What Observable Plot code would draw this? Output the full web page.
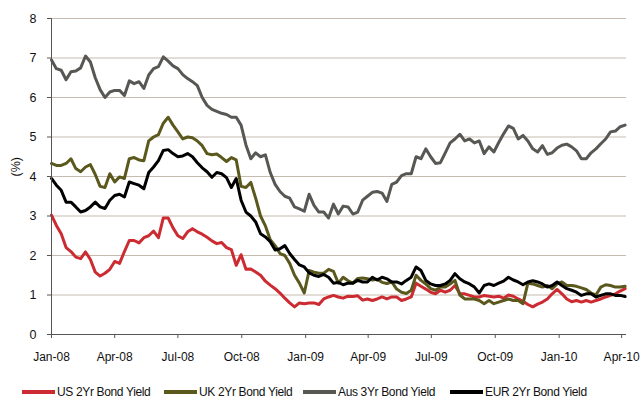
<!DOCTYPE html>
<html>
<head>
<meta charset="utf-8">
<script src="https://cdn.jsdelivr.net/npm/d3@7"></script>
<script src="https://cdn.jsdelivr.net/npm/@observablehq/plot@0.6"></script>
<style>
  body { margin: 0; background: #fff; font-family: "Liberation Sans", Arial, sans-serif; }
  #wrap { width: 642px; position: relative; }
  #legend { position: relative; height: 31px; width: 642px; }
  .item { position: absolute; top: 11px; display: flex; align-items: center; font-size: 12px; letter-spacing: -0.35px; color: #111; white-space: nowrap; }
  .sw { width: 33px; height: 4px; margin-right: 2px; }
</style>
</head>
<body>
<div id="wrap"></div>
<script>
// ---- Data (weekly observations starting 1 Jan 2008) ----
const seriesNames = ["US 2Yr Bond Yield", "UK 2Yr Bond Yield", "Aus 3Yr Bond Yield", "EUR 2Yr Bond Yield"];
const seriesColors = ["#cc2b31", "#5a581c", "#575853", "#000000"];
const firstWeek = "2008-01-01";

const us = [3.02,2.76,2.55,2.2,2.1,1.96,1.92,2.09,1.9,1.58,1.48,1.55,1.65,1.85,1.8,2.1,2.38,2.38,2.32,2.45,2.5,2.62,2.45,2.95,2.95,2.7,2.5,2.43,2.6,2.68,
2.6,2.54,2.46,2.37,2.3,2.33,2.2,2.15,1.75,2.02,1.65,1.66,1.58,1.5,1.35,1.25,1.16,1.05,0.92,0.8,0.7,0.8,0.78,0.8,0.8,0.76,0.9,0.95,0.99,0.95,
0.92,0.97,0.96,0.98,0.87,0.9,0.86,0.9,0.95,0.9,0.95,0.95,0.86,0.9,0.95,1.3,1.22,1.15,1.07,1.03,1.12,1.07,1.12,1.24,1.03,1.03,0.99,0.95,0.95,0.99,
0.97,0.95,0.97,0.92,1.0,0.97,0.9,0.84,0.76,0.7,0.77,0.82,0.9,1.03,1.14,1.03,0.9,0.83,0.86,0.82,0.86,0.82,0.86,0.9,0.95,0.99,1.03,1.1,1.16];

const uk = [4.33,4.28,4.28,4.33,4.45,4.2,4.12,4.24,4.3,4.05,3.75,3.72,4.07,3.86,3.99,3.95,4.45,4.48,4.42,4.4,4.9,5.0,5.06,5.35,5.5,5.3,5.13,4.95,5.0,4.98,
4.9,4.78,4.58,4.55,4.57,4.48,4.38,4.48,4.42,3.75,3.72,3.85,3.45,3.0,2.75,2.4,2.25,2.05,2.0,1.8,1.5,1.3,1.05,1.62,1.58,1.55,1.55,1.65,1.6,1.3,
1.45,1.36,1.3,1.42,1.43,1.41,1.38,1.4,1.32,1.29,1.33,1.15,1.07,1.04,1.12,1.5,1.37,1.28,1.16,1.12,1.2,1.2,1.28,1.37,1.0,0.9,0.9,0.9,0.86,0.78,
0.86,0.78,0.82,0.86,0.9,0.86,0.86,0.78,1.3,1.28,1.24,1.2,1.24,1.16,1.28,1.33,1.24,1.24,1.22,1.18,1.14,1.05,1.0,1.2,1.26,1.24,1.2,1.2,1.22];

const aus = [6.95,6.73,6.69,6.45,6.65,6.67,6.75,7.05,6.9,6.5,6.2,6.0,6.14,6.18,6.18,6.05,6.42,6.35,6.4,6.23,6.57,6.73,6.78,7.03,6.92,6.8,6.73,6.58,6.48,6.4,
6.3,6.0,5.8,5.7,5.65,5.6,5.57,5.5,5.5,5.3,4.8,4.45,4.6,4.5,4.55,4.1,3.8,3.62,3.5,3.45,3.23,3.18,3.12,3.55,3.27,3.1,3.1,2.95,3.3,3.05,
3.25,3.23,3.05,3.1,3.4,3.5,3.6,3.62,3.58,3.37,3.8,3.86,4.02,4.07,4.07,4.5,4.45,4.7,4.5,4.33,4.35,4.6,4.85,4.95,5.07,4.9,4.95,4.85,4.9,4.58,
4.75,4.62,4.86,5.08,5.28,5.22,4.95,5.04,4.9,4.7,4.62,4.78,4.56,4.6,4.72,4.79,4.82,4.75,4.65,4.45,4.45,4.6,4.7,4.83,4.95,5.13,5.15,5.26,5.3];

const eur = [3.95,3.78,3.65,3.35,3.35,3.23,3.1,3.14,3.23,3.35,3.23,3.19,3.4,3.52,3.55,3.48,3.86,3.82,3.78,3.69,4.1,4.24,4.4,4.66,4.68,4.58,4.5,4.52,4.58,4.5,
4.35,4.22,4.12,3.98,4.1,4.07,3.97,3.72,3.95,3.4,3.1,3.0,2.85,2.55,2.47,2.35,2.14,2.17,2.25,2.05,1.9,1.76,1.71,1.56,1.5,1.47,1.52,1.45,1.3,1.32,
1.26,1.3,1.3,1.37,1.33,1.33,1.45,1.38,1.45,1.41,1.33,1.33,1.28,1.37,1.45,1.71,1.62,1.37,1.28,1.24,1.24,1.28,1.37,1.54,1.41,1.33,1.28,1.2,1.05,1.24,
1.28,1.24,1.3,1.35,1.45,1.38,1.33,1.26,1.33,1.36,1.33,1.28,1.2,1.24,1.33,1.24,1.16,1.12,1.07,0.99,1.03,1.03,0.95,0.99,1.03,1.03,0.99,0.99,0.96];

const xTickDates = ["2008-01-01","2008-04-01","2008-07-01","2008-10-01","2009-01-01","2009-04-01","2009-07-01","2009-10-01","2010-01-01","2010-04-01"];
const yTicks = [0,1,2,3,4,5,6,7,8];
const xDomain = ["2008-01-01", "2010-04-08"];

// ---- Build table ----
const start = new Date(firstWeek + "T00:00:00Z");
const allValues = [us, uk, aus, eur];
const rows = [];
allValues.forEach((vals, s) => {
  vals.forEach((v, i) => rows.push({series: seriesNames[s], date: d3.utcDay.offset(start, 7 * i), value: v}));
});
const toDate = s => new Date(s + "T00:00:00Z");

const fmt = d3.utcFormat("%b-%y");

const chart = Plot.plot({
  width: 642,
  height: 374,
  marginLeft: 51,
  marginRight: 16,
  marginTop: 18,
  marginBottom: 40,
  style: {fontFamily: "'Liberation Sans', Arial, sans-serif", fontSize: "12px", background: "#fff", color: "#111"},
  x: {type: "utc", domain: xDomain.map(toDate)},
  y: {domain: [0, 8]},
  color: {domain: seriesNames, range: seriesColors},
  marks: [
    Plot.gridY(yTicks.filter(d => d > 0), {stroke: "#c6bbae", strokeOpacity: 1, strokeWidth: 1}),
    Plot.axisY(yTicks, {tickSize: 4, tickPadding: 11, label: null, stroke: "#555", fill: "#111", fontSize: 12.5}),
    Plot.axisX(xTickDates.map(toDate), {tickSize: 4, tickPadding: 14, label: null, tickFormat: fmt, stroke: "#555", fill: "#111", fontSize: 12}),
    Plot.line(rows, {x: "date", y: "value", z: "series", stroke: "series", strokeWidth: 3, strokeLinejoin: "round"}),
    Plot.ruleY([0], {stroke: "#555", strokeWidth: 1}),
    Plot.ruleX([toDate(xDomain[0])], {stroke: "#555", strokeWidth: 1}),
    Plot.text(["(%)"], {frameAnchor: "left", dx: -36, rotate: -90, fontSize: 12.5, fill: "#111"})
  ]
});

const wrap = document.getElementById("wrap");
wrap.appendChild(chart);

// ---- Legend ----
const legendLeft = [22, 164, 303, 450];
const legend = document.createElement("div");
legend.id = "legend";
seriesNames.forEach((name, i) => {
  const it = document.createElement("div");
  it.className = "item";
  it.style.left = legendLeft[i] + "px";
  const sw = document.createElement("span");
  sw.className = "sw";
  sw.style.background = seriesColors[i];
  const tx = document.createElement("span");
  tx.textContent = name;
  it.appendChild(sw);
  it.appendChild(tx);
  legend.appendChild(it);
});
wrap.appendChild(legend);
</script>
</body>
</html>
